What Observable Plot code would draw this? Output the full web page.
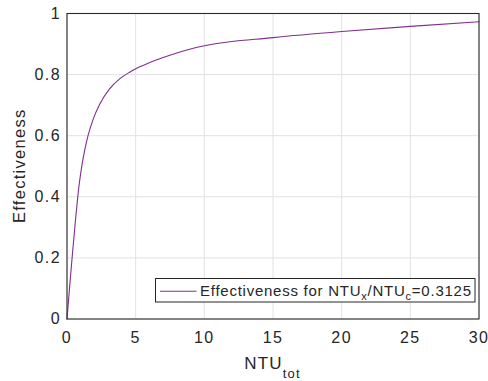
<!DOCTYPE html>
<html><head><meta charset="utf-8">
<script src="https://cdn.jsdelivr.net/npm/d3@7"></script>
<script src="https://cdn.jsdelivr.net/npm/@observablehq/plot@0.6"></script>
<style>body{margin:0;background:#fff;}</style>
</head><body><div id="chart"></div>
<script>
const ntuTot = [0, 0.2, 0.4, 0.6, 0.75, 0.9, 1.04, 1.28, 1.53, 1.89, 2.38, 3.1, 3.83, 4.56, 5.54, 6.39, 7, 8, 9, 10.3, 15, 20, 25, 30];
const effectiveness = [0, 0.11, 0.215, 0.315, 0.385, 0.445, 0.49, 0.55, 0.6, 0.652, 0.703, 0.753, 0.786, 0.808, 0.83, 0.846, 0.856, 0.871, 0.884, 0.897, 0.921, 0.941, 0.958, 0.973];
const xTicks = [0, 5, 10, 15, 20, 25, 30];
const yTicks = [0, 0.2, 0.4, 0.6, 0.8, 1];
const yTickLabels = ["0", "0.2", "0.4", "0.6", "0.8", "1"];
const xLabel = ["NTU", "tot"];
const yLabel = "Effectiveness";
const legendParts = [["Effectiveness for NTU", false], ["x", true], ["/NTU", false], ["c", true], ["=0.3125", false]];

(function () {
const data = ntuTot.map((x, i) => ({x, y: effectiveness[i]}));
const font = "'Liberation Sans', Arial, Helvetica, sans-serif";
const textColor = "#262626";

const chart = Plot.plot({
  width: 488, height: 381,
  marginLeft: 66.5, marginRight: 9.5, marginTop: 13, marginBottom: 62.5,
  x: {domain: [0, 30]},
  y: {domain: [0, 1]},
  style: {fontFamily: font, fontSize: "16px", color: textColor, background: "#fff", letterSpacing: "1.4px"},
  marks: [
    Plot.gridX(xTicks, {stroke: "#e2e2e2", strokeOpacity: 1, strokeWidth: 1}),
    Plot.gridY(yTicks, {stroke: "#e2e2e2", strokeOpacity: 1, strokeWidth: 1}),
    Plot.line(data, {x: "x", y: "y", stroke: "#7E2F8E", strokeWidth: 1.1, curve: "monotone-x"}),
    Plot.frame({stroke: "#2a2a2a", strokeWidth: 1.1}),
    Plot.axisX(xTicks, {tickSize: 0, tickPadding: 13, label: null, fill: textColor}),
    Plot.axisY(yTicks, {tickSize: 0, tickPadding: 6, label: null, fill: textColor, tickFormat: d => yTickLabels[yTicks.indexOf(d)]})
  ]
});

const svg = d3.select(chart);
const xr = chart.scale("x").range;
const yr = chart.scale("y").range;
const pLeft = xr[0], pRight = xr[1], pBottom = yr[0], pTop = yr[1];

const xl = svg.append("text")
  .attr("x", (pLeft + pRight) / 2).attr("y", pBottom + 50)
  .attr("text-anchor", "middle").attr("fill", textColor)
  .style("font-size", "17px").style("letter-spacing", "1.2px");
xl.append("tspan").text(xLabel[0]);
xl.append("tspan").attr("dy", 9).style("font-size", "13px").text(xLabel[1]);

svg.append("text")
  .attr("transform", `translate(25,${(pTop + pBottom) / 2}) rotate(-90)`)
  .attr("text-anchor", "middle").attr("fill", textColor)
  .style("font-size", "16.5px").style("letter-spacing", "1.3px")
  .text(yLabel);

const lw = 319.5, lh = 23.5;
const lx = pRight - 3.5 - lw, ly = pBottom - 16.5 - lh;
const lg = svg.append("g");
lg.append("rect").attr("x", lx).attr("y", ly).attr("width", lw).attr("height", lh)
  .attr("fill", "#fff").attr("stroke", "#262626").attr("stroke-width", 1);
lg.append("line").attr("x1", lx + 4.5).attr("x2", lx + 41).attr("y1", ly + lh / 2 + 1).attr("y2", ly + lh / 2 + 1)
  .attr("stroke", "#7E2F8E").attr("stroke-width", 1.1);
const lt = lg.append("text").attr("x", lx + 44.5).attr("y", ly + 17.5).attr("fill", textColor)
  .attr("text-anchor", "start")
  .style("font-size", "15px").style("letter-spacing", "0.75px");
let shifted = false;
for (const [s, sub] of legendParts) {
  const t = lt.append("tspan").text(s);
  if (sub && !shifted) { t.attr("dy", 4).style("font-size", "11px"); shifted = true; }
  else if (!sub && shifted) { t.attr("dy", -4); shifted = false; }
}

document.getElementById("chart").appendChild(chart);
})();
</script>
</body></html>
